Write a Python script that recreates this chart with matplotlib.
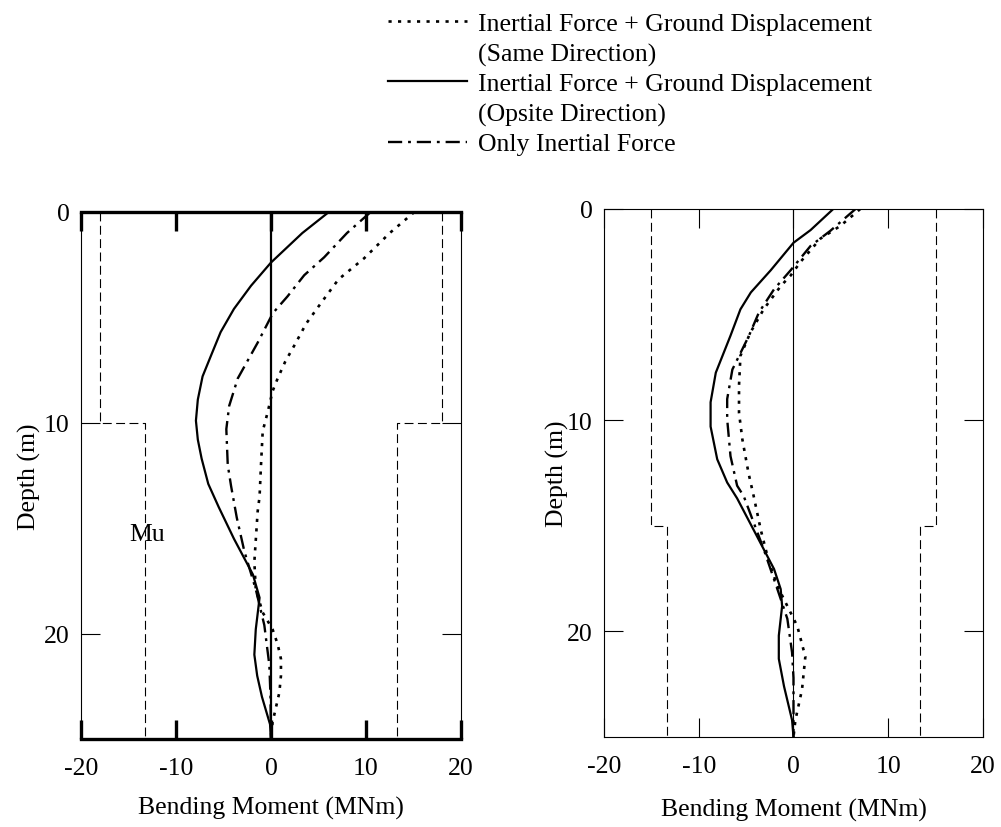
import numpy as np
import matplotlib
matplotlib.use("Agg")
import matplotlib.pyplot as plt
from matplotlib.lines import Line2D

plt.rcParams['font.family'] = ['Liberation Serif', 'DejaVu Serif']
plt.rcParams['axes.unicode_minus'] = False
FS = 18.5

# ---- left panel (Mu step at 10 m) ----
l_same_d = [0, 1.0, 2.2, 3.2, 4.3, 5.3, 6.3, 7.1, 7.9, 8.5, 9.5, 10.4, 12.0, 13.5, 14.2, 16.6,
            17.9, 19.0, 19.8, 20.5, 21.2, 22.0, 22.8, 24.2, 25]
l_same_m = [15.1, 12.5, 9.8, 7.1, 5.3, 3.7, 2.5, 1.5, 0.7, 0.17, -0.35, -0.87, -1.05, -1.2, -1.4, -1.75,
            -1.6, -0.87, 0.17, 0.7, 1.05, 1.05, 0.88, 0.17, 0]
l_opp_d = [0, 1.0, 2.4, 3.5, 4.6, 5.7, 6.8, 7.8, 8.9, 9.9, 10.8, 11.7, 12.9, 14.0, 15.5, 17.2,
           18.3, 19.8, 21.0, 22.0, 23.0, 24.3, 25]
l_opp_m = [6.1, 3.3, 0.0, -2.1, -3.9, -5.3, -6.3, -7.2, -7.7, -7.9, -7.7, -7.3, -6.6, -5.5, -3.9, -1.9,
           -1.2, -1.6, -1.75, -1.45, -0.95, -0.1, 0.0]
l_inert_d = [0, 1.0, 2.15, 3.0, 4.0, 4.8, 6.2, 7.9, 9.2, 10.3, 12.0, 13.0, 14.5, 16.1, 17.9, 19.6,
             21.5, 23.0, 25]
l_inert_m = [10.5, 8.0, 5.6, 3.5, 1.75, 0.2, -1.4, -3.5, -4.4, -4.7, -4.55, -4.2, -3.6, -2.8, -1.6, -0.7,
             -0.17, -0.05, 0]
l_mu_d = [0, 10, 10, 25]
l_mu_m = [18, 18, 13.3, 13.3]

# ---- right panel (Mu step at 15 m) ----
r_same_d = [0, 0.8, 1.4, 2.5, 3.15, 3.65, 4.75, 5.85, 6.95, 8.35, 9.65, 10.9, 12.5, 13.6, 15.2,
            16.7, 17.85, 18.8, 19.75, 21.2, 22.75, 24.2, 25]
r_same_m = [7.05, 4.95, 2.85, 0.75, -0.3, -1.35, -3.15, -4.55, -5.6, -5.75, -5.75, -5.4, -4.75, -4.2, -3.45,
            -2.6, -1.7, -0.65, 0.4, 1.25, 0.9, 0.2, 0]
r_opp_d = [0, 1.0, 1.6, 2.9, 3.95, 4.75, 6.0, 7.75, 9.15, 10.3, 11.85, 12.95, 13.7, 15.5, 17.05,
           18.0, 18.8, 20.2, 21.3, 22.6, 24.2, 25]
r_opp_m = [4.2, 1.8, 0.0, -2.4, -4.5, -5.6, -6.65, -8.2, -8.75, -8.75, -8.05, -7.0, -5.95, -3.85, -2.05,
           -1.35, -1.2, -1.55, -1.55, -1.0, -0.15, 0]
r_inert_d = [0, 1.03, 1.75, 2.9, 3.8, 4.9, 6.0, 7.6, 9.0, 9.95, 11.7, 13.1, 13.6, 14.85, 16.1,
             18.0, 19.4, 21.0, 22.2, 25]
r_inert_m = [6.55, 3.9, 1.8, -0.3, -2.05, -3.65, -4.7, -6.45, -7.0, -7.0, -6.65, -5.95, -5.25, -4.2, -3.15,
             -1.7, -0.65, -0.15, 0, 0]
r_mu_d = [0, 15, 15, 25]
r_mu_m = [15, 15, 13.3, 13.3]

xticks = [-20, -10, 0, 10, 20]
yticks = [0, 10, 20]

legend_lines = ['Inertial Force + Ground Displacement', '(Same Direction)',
                'Inertial Force + Ground Displacement', '(Opsite Direction)',
                'Only Inertial Force']

STY_SAME = dict(color='black', lw=1.9, linestyle=(0, (1.2, 2.4)))
STY_OPP = dict(color='black', lw=1.6, linestyle='-')
STY_INERT = dict(color='black', lw=1.7, linestyle=(0, (6, 2.5, 1.2, 2.5)))
STY_MU = dict(color='black', lw=0.8, linestyle=(0, (8, 4)))


def draw_panel(ax, same, opp, inert, mu, heavy, ylabelpad):
    mu_d, mu_m = mu
    ax.plot(mu_m, mu_d, **STY_MU)
    ax.plot([-m for m in mu_m], mu_d, **STY_MU)
    ax.axvline(0, color='black', lw=1.6 if heavy else 0.8)
    ax.plot(same[1], same[0], **STY_SAME)
    ax.plot(inert[1], inert[0], **STY_INERT)
    ax.plot(opp[1], opp[0], **STY_OPP)

    ax.set_xlim(-20, 20)
    ax.set_ylim(25, 0)
    ax.set_xticks(xticks)
    ax.set_yticks(yticks)
    xw = 2.4 if heavy else 0.8
    ax.tick_params(axis='x', direction='in', top=True, bottom=True, length=14, width=xw,
                   labelsize=FS, pad=13)
    ax.tick_params(axis='y', direction='in', left=True, right=True, length=14, width=0.8,
                   labelsize=FS, pad=8)
    for s in ['left', 'right']:
        ax.spines[s].set_linewidth(0.8)
    for s in ['top', 'bottom']:
        ax.spines[s].set_linewidth(xw)
    ax.set_xlabel('Bending Moment (MNm)', fontsize=FS, labelpad=12 if heavy else 15)
    ax.set_ylabel('Depth (m)', fontsize=FS, labelpad=ylabelpad)


fig = plt.figure(figsize=(10.01, 8.28), dpi=100)
axl = fig.add_axes([0.0809, 0.1063, 0.3796, 0.6365])
axr = fig.add_axes([0.6034, 0.1087, 0.3786, 0.6377])

draw_panel(axl, (l_same_d, l_same_m), (l_opp_d, l_opp_m), (l_inert_d, l_inert_m),
           (l_mu_d, l_mu_m), heavy=True, ylabelpad=2)
draw_panel(axr, (r_same_d, r_same_m), (r_opp_d, r_opp_m), (r_inert_d, r_inert_m),
           (r_mu_d, r_mu_m), heavy=False, ylabelpad=-1)
axl.text(-13, 15.3, 'Mu', fontsize=FS, ha='center', va='center')

# legend drawn by hand: one text row per line, handle on the first line of each entry
row_px = [22, 53, 82, 113, 143]
handle_rows = {0: STY_SAME, 2: STY_OPP, 4: STY_INERT}
H = 828.0
for i, (txt, ypx) in enumerate(zip(legend_lines, row_px)):
    fig.text(0.4775, 1 - (ypx + 8.5) / H, txt, fontsize=FS, ha='left', va='baseline')
    if i in handle_rows:
        y = 1 - ypx / H
        fig.add_artist(Line2D([0.3876, 0.4665], [y, y], transform=fig.transFigure,
                              **handle_rows[i]))

fig.savefig('out.png', dpi=100)
